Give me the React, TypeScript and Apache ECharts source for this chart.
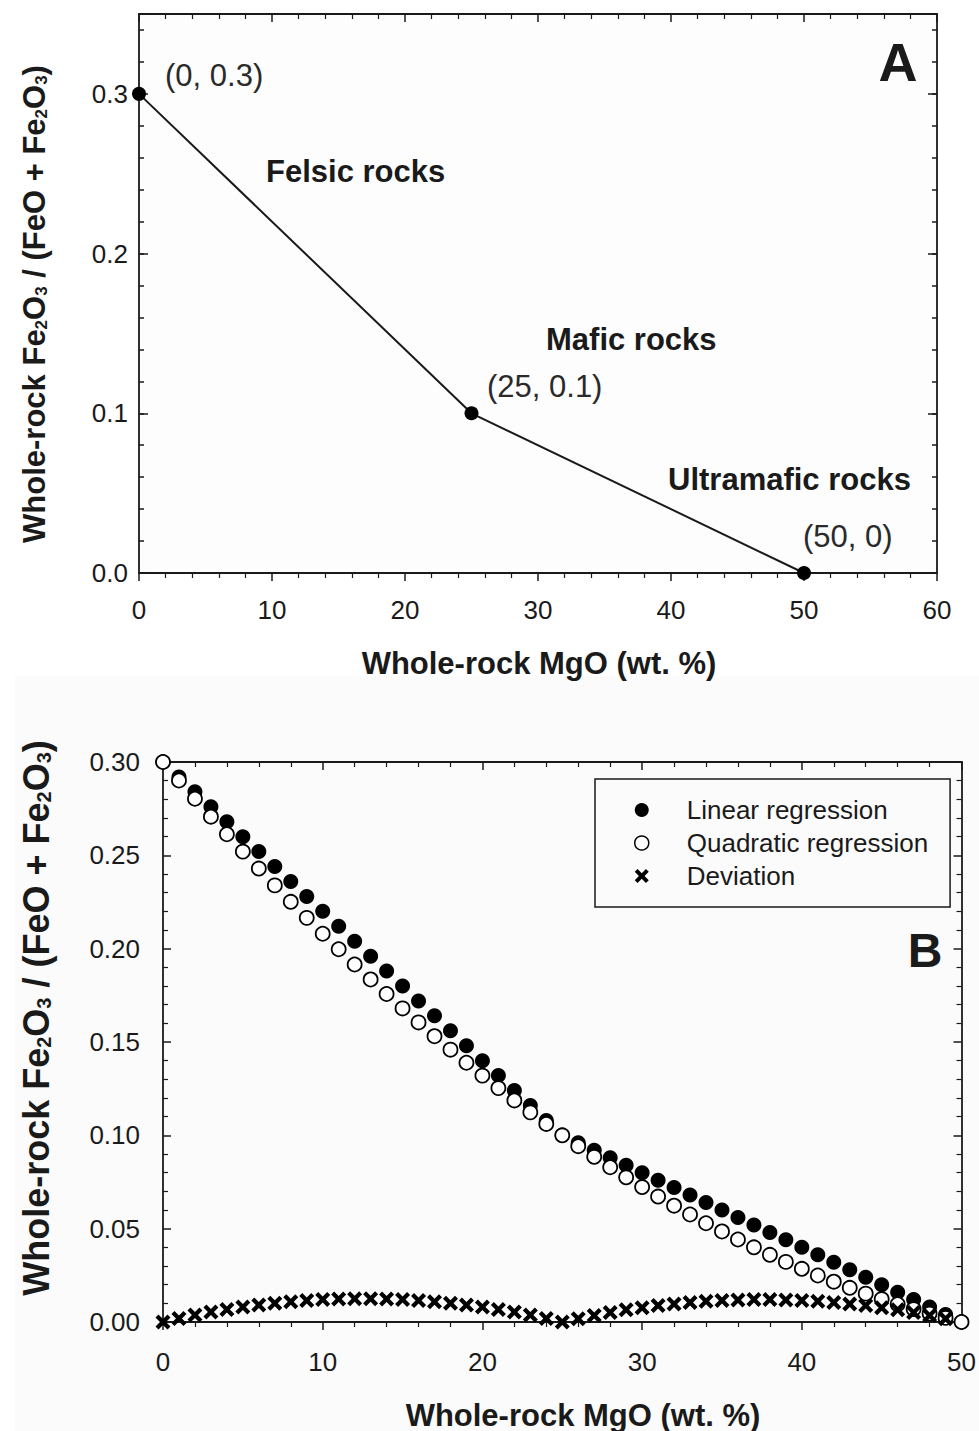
import React, { useEffect, useRef } from "react";
import * as echarts from "echarts";

const FONT = "'Liberation Sans', Arial, Helvetica, sans-serif";
const INK = "#1a1a1a";

// ---------- Panel A ----------
const rockMgO = [0, 25, 50];
const rockRatio = [0.3, 0.1, 0.0];
const pointLabels = ["(0, 0.3)", "(25, 0.1)", "(50, 0)"];
const rockTypes = ["Felsic rocks", "Mafic rocks", "Ultramafic rocks"];
const xTitle = "Whole-rock MgO (wt. %)";

// ---------- Panel B ----------
const seriesNames = ["Linear regression", "Quadratic regression", "Deviation"];
const mgo = [
  0, 1, 2, 3, 4, 5, 6, 7, 8, 9, 10, 11, 12, 13, 14, 15, 16, 17, 18, 19, 20, 21, 22, 23, 24, 25,
  26, 27, 28, 29, 30, 31, 32, 33, 34, 35, 36, 37, 38, 39, 40, 41, 42, 43, 44, 45, 46, 47, 48, 49, 50,
];
const linearRegression = [
  0.300, 0.292, 0.284, 0.276, 0.268, 0.260, 0.252, 0.244, 0.236, 0.228, 0.220, 0.212, 0.204,
  0.196, 0.188, 0.180, 0.172, 0.164, 0.156, 0.148, 0.140, 0.132, 0.124, 0.116, 0.108, 0.100,
  0.096, 0.092, 0.088, 0.084, 0.080, 0.076, 0.072, 0.068, 0.064, 0.060, 0.056, 0.052, 0.048,
  0.044, 0.040, 0.036, 0.032, 0.028, 0.024, 0.020, 0.016, 0.012, 0.008, 0.004, 0.000,
];
const quadraticRegression = [
  0.3000, 0.2901, 0.2803, 0.2707, 0.2613, 0.2520, 0.2429, 0.2339, 0.2251, 0.2165, 0.2080,
  0.1997, 0.1915, 0.1835, 0.1757, 0.1680, 0.1605, 0.1531, 0.1459, 0.1389, 0.1320, 0.1253,
  0.1187, 0.1123, 0.1061, 0.1000, 0.0942, 0.0885, 0.0829, 0.0775, 0.0723, 0.0672, 0.0623,
  0.0576, 0.0529, 0.0485, 0.0442, 0.0400, 0.0360, 0.0322, 0.0285, 0.0249, 0.0216, 0.0183,
  0.0152, 0.0123, 0.0095, 0.0069, 0.0045, 0.0022, 0.0000,
];
const deviation = [
  0.0000, 0.0019, 0.0037, 0.0053, 0.0067, 0.0080, 0.0091, 0.0101, 0.0109, 0.0115, 0.0120,
  0.0123, 0.0125, 0.0125, 0.0123, 0.0120, 0.0115, 0.0109, 0.0101, 0.0091, 0.0080, 0.0067,
  0.0053, 0.0037, 0.0019, 0.0000, 0.0018, 0.0035, 0.0051, 0.0065, 0.0077, 0.0088, 0.0097,
  0.0104, 0.0111, 0.0115, 0.0118, 0.0120, 0.0120, 0.0118, 0.0115, 0.0111, 0.0104, 0.0097,
  0.0088, 0.0077, 0.0065, 0.0051, 0.0035, 0.0018,
];

const CROSS =
  "path://M0,2L2,0L5,3L8,0L10,2L7,5L10,8L8,10L5,7L2,10L0,8L3,5Z";

const lineStyle = { color: INK, width: 1.8 };
const labelStyle = { color: INK, fontSize: 26, fontFamily: FONT };

function xAxisDef(grid: number, max: number, top: boolean, margin: number) {
  return {
    type: "value",
    gridIndex: grid,
    position: top ? "top" : "bottom",
    min: 0,
    max,
    interval: 10,
    axisLine: { show: true, onZero: false, lineStyle },
    axisTick: { show: true, inside: top, length: 8, lineStyle: { color: INK, width: 1.5 } },
    minorTick: { show: true, splitNumber: 5, length: 5, lineStyle: { color: INK, width: 1.2 } },
    axisLabel: { show: !top, margin, ...labelStyle },
    splitLine: { show: false },
  };
}

function yAxisDef(
  grid: number,
  max: number,
  interval: number,
  right: boolean,
  opts: { label?: (v: number) => string; margin?: number; tickLen: number; line: boolean; minor?: number }
) {
  return {
    type: "value",
    gridIndex: grid,
    position: right ? "right" : "left",
    min: 0,
    max,
    interval,
    axisLine: { show: opts.line, onZero: false, lineStyle },
    axisTick: { show: true, inside: true, length: opts.tickLen, lineStyle: { color: INK, width: 1.5 } },
    minorTick: opts.minor
      ? { show: true, splitNumber: opts.minor, length: 5, lineStyle: { color: INK, width: 1.2 } }
      : { show: false },
    axisLabel: opts.label
      ? { show: true, margin: opts.margin, formatter: opts.label, showMaxLabel: true, ...labelStyle }
      : { show: false },
    splitLine: { show: false },
  };
}

function yTitle(x: number, y: number, size: number) {
  const sub = Math.round(size * 0.55);
  return {
    type: "text",
    x,
    y,
    rotation: Math.PI / 2,
    style: {
      text: "{b|Whole-rock Fe}{s|2}{b|O}{s|3}{b| / (FeO + Fe}{s|2}{b|O}{s|3}{b|)}",
      align: "center",
      verticalAlign: "middle",
      rich: {
        b: { fontSize: size, fontWeight: "bold", fontFamily: FONT, fill: INK, lineHeight: size + 4, verticalAlign: "bottom" },
        s: { fontSize: sub, fontWeight: "bold", fontFamily: FONT, fill: INK, lineHeight: sub, verticalAlign: "bottom" },
      },
    },
  };
}

function txt(x: number, y: number, text: string, size: number, bold: boolean, align = "left") {
  return {
    type: "text",
    x,
    y,
    style: {
      text,
      fontSize: size,
      fontWeight: bold ? "bold" : "normal",
      fontFamily: FONT,
      fill: bold ? INK : "#2a2a2a",
      align,
      verticalAlign: "middle",
    },
  };
}

export default function App() {
  const ref = useRef<HTMLDivElement>(null);
  useEffect(() => {
    document.body.style.margin = "0";
    const chart = echarts.init(ref.current!, undefined, { renderer: "svg" });
    const is01 = (v: number) => Math.abs(v * 10 - Math.round(v * 10)) < 1e-6;
    const option = {
      animation: false,
      backgroundColor: "#ffffff",
      grid: [
        { left: 139, top: 14, width: 798, height: 559, show: true, backgroundColor: "#fdfdfd", borderWidth: 0 },
        { left: 163, top: 762, width: 800, height: 560, show: false },
      ],
      xAxis: [
        xAxisDef(0, 60, false, 24),
        xAxisDef(0, 60, true, 0),
        xAxisDef(1, 50, false, 27),
        xAxisDef(1, 50, true, 0),
      ],
      yAxis: [
        yAxisDef(0, 0.35, 0.02, false, {
          tickLen: 5,
          line: true,
          margin: 11,
          label: (v: number) => (is01(v) ? v.toFixed(1) : ""),
        }),
        yAxisDef(0, 0.35, 0.1, false, { tickLen: 9, line: false }),
        yAxisDef(0, 0.35, 0.02, true, { tickLen: 5, line: true }),
        yAxisDef(0, 0.35, 0.1, true, { tickLen: 9, line: false }),
        yAxisDef(1, 0.3, 0.05, false, {
          tickLen: 8,
          line: true,
          margin: 23,
          minor: 5,
          label: (v: number) => v.toFixed(2),
        }),
        yAxisDef(1, 0.3, 0.05, true, { tickLen: 8, line: true, minor: 5 }),
      ],
      legend: {
        data: [
          { name: seriesNames[0] },
          { name: seriesNames[1], itemStyle: { color: "#ffffff", borderColor: "#000000", borderWidth: 1.5 } },
          { name: seriesNames[2] },
        ],
        orient: "vertical",
        left: 595,
        top: 779,
        padding: [17, 22, 17, 39],
        itemWidth: 14,
        itemHeight: 14,
        itemGap: 5,
        borderColor: INK,
        borderWidth: 1.5,
        borderRadius: 0,
        selectedMode: false,
        textStyle: { color: INK, fontSize: 26, fontFamily: FONT, lineHeight: 28, padding: [0, 0, 0, 33] },
      },
      graphic: [
        { type: "rect", silent: true, z: -10, shape: { x: 15, y: 676, width: 964, height: 755 }, style: { fill: "#fbfbfb" } },
        txt(165, 75, pointLabels[0], 31, false),
        txt(487, 386, pointLabels[1], 31, false),
        txt(803, 536, pointLabels[2], 31, false),
        txt(266, 171, rockTypes[0], 31, true),
        txt(546, 339, rockTypes[1], 31, true),
        txt(668, 479, rockTypes[2], 31, true),
        txt(898, 62, "A", 54, true, "center"),
        txt(925, 950, "B", 48, true, "center"),
        txt(539, 663, xTitle, 31, true, "center"),
        txt(583, 1415, xTitle, 31, true, "center"),
        yTitle(32, 304, 31),
        yTitle(34, 1018, 36),
      ],
      series: [
        {
          type: "line",
          xAxisIndex: 0,
          yAxisIndex: 0,
          data: rockMgO.map((x, i) => [x, rockRatio[i]]),
          symbol: "circle",
          symbolSize: 14,
          clip: false,
          lineStyle: { color: INK, width: 2 },
          itemStyle: { color: "#000000", opacity: 1 },
        },
        {
          name: seriesNames[0],
          type: "scatter",
          xAxisIndex: 2,
          yAxisIndex: 4,
          data: mgo.map((x, i) => [x, linearRegression[i]]),
          symbol: "circle",
          symbolSize: 15,
          clip: false,
          itemStyle: { color: "#000000", opacity: 1 },
          z: 2,
        },
        {
          name: seriesNames[1],
          type: "scatter",
          xAxisIndex: 2,
          yAxisIndex: 4,
          data: mgo.map((x, i) => [x, quadraticRegression[i]]),
          symbol: "circle",
          symbolSize: 14,
          clip: false,
          itemStyle: { color: "#ffffff", borderColor: "#000000", borderWidth: 1.8, opacity: 1 },
          z: 3,
        },
        {
          name: seriesNames[2],
          type: "scatter",
          xAxisIndex: 2,
          yAxisIndex: 4,
          data: deviation.map((d, i) => [mgo[i], d]),
          symbol: CROSS,
          symbolSize: 15,
          symbolKeepAspect: true,
          clip: false,
          itemStyle: { color: "#000000", opacity: 1 },
          z: 4,
        },
      ],
    };
    chart.setOption(option as any);
    return () => chart.dispose();
  }, []);
  return <div ref={ref} style={{ width: 979, height: 1431 }} />;
}
